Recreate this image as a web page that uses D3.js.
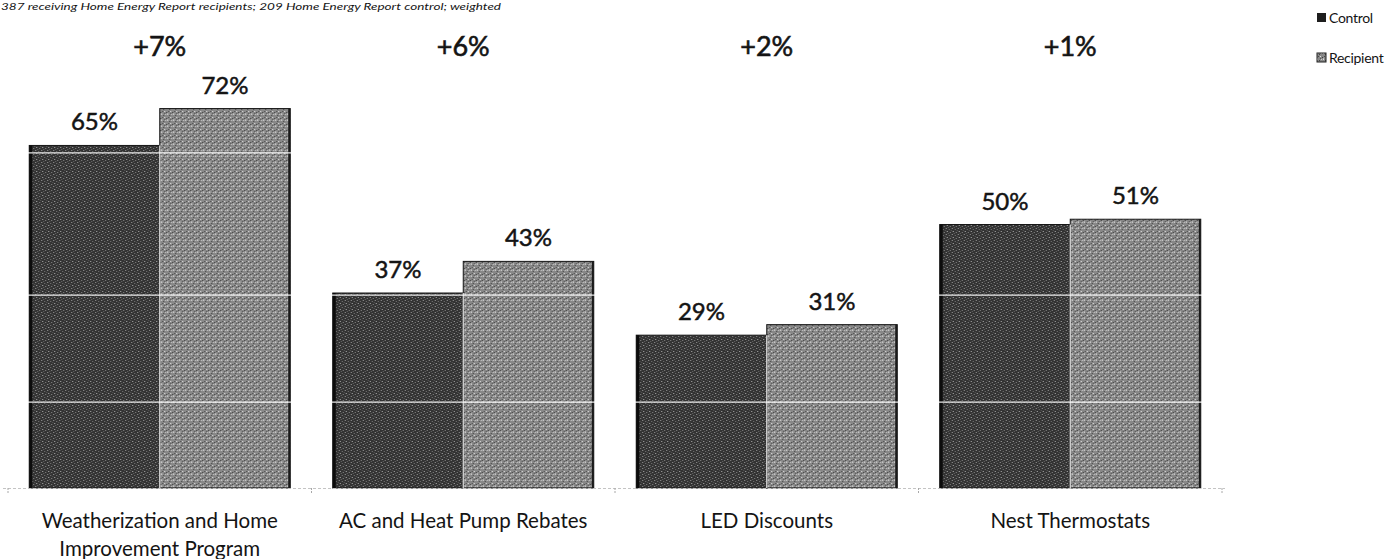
<!DOCTYPE html>
<html>
<head>
<meta charset="utf-8">
<script src="https://cdn.jsdelivr.net/npm/d3@7/dist/d3.min.js"></script>
<style>
  html, body { margin: 0; padding: 0; background: #fff; }
  svg { display: block; }
  text { font-family: Lato, "Open Sans", sans-serif; fill: #141414; }
</style>
</head>
<body>
<svg id="chart" width="1385" height="559"></svg>
<script>
// Share of households aware of each program, by group
const categories = [
  ["Weatherization and Home", "Improvement Program"],
  ["AC and Heat Pump Rebates"],
  ["LED Discounts"],
  ["Nest Thermostats"]
];
const seriesNames = ["Control", "Recipient"];
const controlValues = [65, 37, 29, 50];
const recipientValues = [72, 43, 31, 51];
const gridValues = [16.3, 36.6, 63.6];
const footnote = "387 receiving Home Energy Report recipients; 209 Home Energy Report control; weighted";

const W = 1385, H = 559;
const svg = d3.select("#chart");
const defs = svg.append("defs");

// Halftone-style textures for the two series
function texture(id, base, specks) {
  const p = defs.append("pattern").attr("id", id)
    .attr("patternUnits", "userSpaceOnUse").attr("width", 6).attr("height", 6);
  p.append("rect").attr("width", 6).attr("height", 6).attr("fill", base);
  specks.forEach(([x, y, c]) => p.append("rect")
    .attr("x", x).attr("y", y).attr("width", 1).attr("height", 1).attr("fill", c));
}
texture("texControl", "#333333", [[0,0,"#9a9a9a"],[3,1,"#7a7a7a"],[1,3,"#b0b0b0"],[4,4,"#8a8a8a"],[5,2,"#5a5a5a"],[2,5,"#6a6a6a"]]);
texture("texRecipient", "#888888", [[0,0,"#d8d8d8"],[2,1,"#444444"],[4,0,"#c8c8c8"],[1,3,"#4a4a4a"],[3,3,"#e4e4e4"],[5,4,"#3c3c3c"],[0,5,"#bcbcbc"],[3,5,"#555555"]]);

const rows = categories.map((c, i) => ({
  label: c, values: [controlValues[i], recipientValues[i]]
}));

const x0 = d3.scaleBand().domain(d3.range(categories.length))
  .range([8, 1222]).paddingInner(0.14).paddingOuter(0.07);
const x1 = d3.scaleBand().domain(seriesNames).range([0, x0.bandwidth()]);
const y = d3.scaleLinear().domain([0, 80]).range([488, 66.4]);
const fills = { Control: "url(#texControl)", Recipient: "url(#texRecipient)" };

// Footnote line along the top edge
svg.append("text").attr("x", 1).attr("y", 10)
  .attr("font-size", 10).attr("font-style", "italic").attr("fill", "#333")
  .attr("textLength", 500).attr("lengthAdjust", "spacingAndGlyphs")
  .text(footnote);

const barLayer = svg.append("g");
const gridLayer = svg.append("g");
const labelLayer = svg.append("g");

const groups = barLayer.selectAll("g").data(rows).join("g")
  .attr("transform", (d, i) => `translate(${x0(i)},0)`);

groups.selectAll("rect.bar").data(d => d.values.map((v, j) => ({ s: seriesNames[j], v })))
  .join("rect").attr("class", "bar")
  .attr("x", d => x1(d.s)).attr("width", x1.bandwidth())
  .attr("y", d => y(d.v)).attr("height", d => y(0) - y(d.v))
  .attr("fill", d => fills[d.s])
  .attr("stroke", "#161616").attr("stroke-width", 1);

// Darker outer edges
groups.append("rect")
  .attr("x", x1("Control")).attr("width", 3)
  .attr("y", d => y(d.values[0])).attr("height", d => y(0) - y(d.values[0]))
  .attr("fill", "#0c0c0c");
groups.append("rect")
  .attr("x", x1("Recipient") + x1.bandwidth() - 2).attr("width", 2)
  .attr("y", d => y(d.values[1])).attr("height", d => y(0) - y(d.values[1]))
  .attr("fill", "#1a1a1a");
// Light seam between the pair
groups.append("line")
  .attr("x1", x1("Recipient")).attr("x2", x1("Recipient"))
  .attr("y1", d => y(Math.min(d.values[0], d.values[1]))).attr("y2", y(0))
  .attr("stroke", "#e8e8e8").attr("stroke-width", 1.2);

// White gridlines show only across the bars
gridLayer.selectAll("line").data(gridValues).join("line")
  .attr("x1", 8).attr("x2", 1222)
  .attr("y1", d => y(d)).attr("y2", d => y(d))
  .attr("stroke", "#ffffff").attr("stroke-width", 1.3).attr("opacity", 0.9);

const labelGroups = labelLayer.selectAll("g").data(rows).join("g")
  .attr("transform", (d, i) => `translate(${x0(i)},0)`);

// Value labels
labelGroups.selectAll("text.val").data(d => d.values.map((v, j) => ({ s: seriesNames[j], v })))
  .join("text").attr("class", "val")
  .attr("x", d => x1(d.s) + x1.bandwidth() / 2)
  .attr("y", d => y(d.v) - 15)
  .attr("text-anchor", "middle").attr("font-size", 24)
  .attr("stroke", "#141414").attr("stroke-width", 0.5)
  .text(d => d.v + "%");

// Difference labels
labelGroups.append("text")
  .attr("x", x0.bandwidth() / 2).attr("y", 56)
  .attr("text-anchor", "middle").attr("font-size", 27)
  .attr("stroke", "#141414").attr("stroke-width", 0.6)
  .text(d => "+" + (d.values[1] - d.values[0]) + "%");

// Category axis
const axis = svg.append("g");
axis.append("line").attr("x1", 3).attr("x2", 1225).attr("y1", y(0) + 0.5).attr("y2", y(0) + 0.5)
  .attr("stroke", "#c4c4c4").attr("stroke-width", 1).attr("stroke-dasharray", "3,2");
const edges = d3.range(categories.length + 1).map(i => 8 + i * x0.step());
axis.selectAll("line.tick").data(edges).join("line").attr("class", "tick")
  .attr("x1", d => d).attr("x2", d => d).attr("y1", y(0)).attr("y2", y(0) + 6)
  .attr("stroke", "#a8a8a8").attr("stroke-dasharray", "2,1");

labelGroups.append("text")
  .attr("x", x0.bandwidth() / 2).attr("y", 528)
  .attr("text-anchor", "middle").attr("font-size", 20.5)
  .selectAll("tspan").data(d => d.label).join("tspan")
  .attr("x", x0.bandwidth() / 2).attr("dy", (d, i) => i === 0 ? 0 : 28)
  .text(d => d);

// Legend
const legend = svg.append("g").selectAll("g").data(seriesNames).join("g")
  .attr("transform", (d, i) => `translate(1317,${13 + i * 40})`);
legend.append("rect").attr("width", 9).attr("height", 9)
  .attr("fill", d => d === "Control" ? "#1e1e1e" : "url(#texRecipient)")
  .attr("stroke", "#222").attr("stroke-width", d => d === "Control" ? 0 : 1);
legend.append("text").attr("x", 12).attr("y", 10).attr("font-size", 14)
  .attr("letter-spacing", -0.3)
  .text(d => d);
</script>
</body>
</html>
